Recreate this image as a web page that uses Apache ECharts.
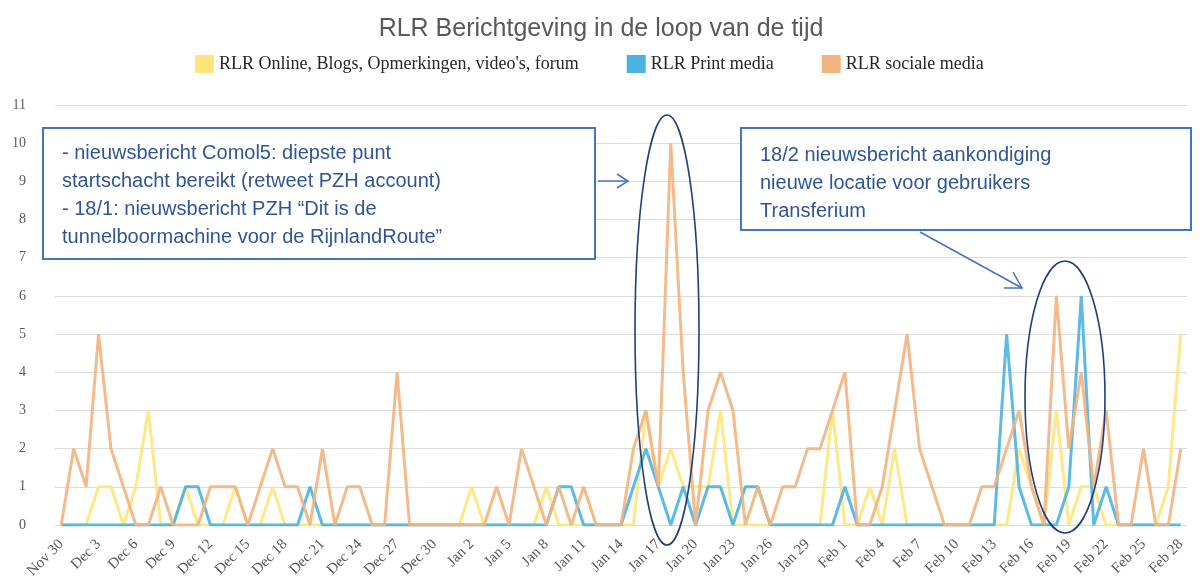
<!DOCTYPE html>
<html lang="nl">
<head>
    <meta charset="UTF-8">
    <title>RLR Berichtgeving</title>
    <script src="https://cdn.jsdelivr.net/npm/echarts@6/dist/echarts.min.js"></script>
    <style>
        html, body {margin: 0; padding: 0; background: #fff;}
    </style>
</head>
<body>
<div id="main" style="width: 1202px;height:588px;"></div>
<script type="text/javascript">
    // dagen: Nov 30 t/m Feb 28 (rijen: Nov30+Dec1-10, Dec11-20, Dec21-31, Jan1-10, Jan11-20, Jan21-31, Feb1-10, Feb11-20, Feb21-28)
    var days = [
        'Nov 30', 'Dec 1', 'Dec 2', 'Dec 3', 'Dec 4', 'Dec 5', 'Dec 6', 'Dec 7', 'Dec 8', 'Dec 9', 'Dec 10',
        'Dec 11', 'Dec 12', 'Dec 13', 'Dec 14', 'Dec 15', 'Dec 16', 'Dec 17', 'Dec 18', 'Dec 19', 'Dec 20',
        'Dec 21', 'Dec 22', 'Dec 23', 'Dec 24', 'Dec 25', 'Dec 26', 'Dec 27', 'Dec 28', 'Dec 29', 'Dec 30', 'Dec 31',
        'Jan 1', 'Jan 2', 'Jan 3', 'Jan 4', 'Jan 5', 'Jan 6', 'Jan 7', 'Jan 8', 'Jan 9', 'Jan 10',
        'Jan 11', 'Jan 12', 'Jan 13', 'Jan 14', 'Jan 15', 'Jan 16', 'Jan 17', 'Jan 18', 'Jan 19', 'Jan 20',
        'Jan 21', 'Jan 22', 'Jan 23', 'Jan 24', 'Jan 25', 'Jan 26', 'Jan 27', 'Jan 28', 'Jan 29', 'Jan 30', 'Jan 31',
        'Feb 1', 'Feb 2', 'Feb 3', 'Feb 4', 'Feb 5', 'Feb 6', 'Feb 7', 'Feb 8', 'Feb 9', 'Feb 10',
        'Feb 11', 'Feb 12', 'Feb 13', 'Feb 14', 'Feb 15', 'Feb 16', 'Feb 17', 'Feb 18', 'Feb 19', 'Feb 20',
        'Feb 21', 'Feb 22', 'Feb 23', 'Feb 24', 'Feb 25', 'Feb 26', 'Feb 27', 'Feb 28'
    ];

    // RLR Online, Blogs, Opmerkingen, video's, forum
    var online = [
        0, 0, 0, 1, 1, 0, 1, 3, 0, 0, 1,
        0, 0, 0, 1, 0, 0, 1, 0, 0, 0,
        0, 0, 0, 0, 0, 0, 0, 0, 0, 0, 0,
        0, 1, 0, 0, 0, 0, 0, 1, 0, 0,
        0, 0, 0, 0, 0, 3, 1, 2, 1, 1,
        1, 3, 0, 0, 0, 0, 0, 0, 0, 0, 3,
        0, 0, 1, 0, 2, 0, 0, 0, 0, 0,
        0, 0, 0, 0, 2, 1, 0, 3, 0, 1,
        1, 0, 0, 0, 0, 0, 1, 5
    ];
    // RLR Print media
    var print = [
        0, 0, 0, 0, 0, 0, 0, 0, 0, 0, 1,
        1, 0, 0, 0, 0, 0, 0, 0, 0, 1,
        0, 0, 0, 0, 0, 0, 0, 0, 0, 0, 0,
        0, 0, 0, 0, 0, 0, 0, 0, 1, 1,
        0, 0, 0, 0, 1, 2, 1, 0, 1, 0,
        1, 1, 0, 1, 1, 0, 0, 0, 0, 0, 0,
        1, 0, 0, 0, 0, 0, 0, 0, 0, 0,
        0, 0, 0, 5, 1, 0, 0, 0, 1, 6,
        0, 1, 0, 0, 0, 0, 0, 0
    ];
    // RLR sociale media
    var sociaal = [
        0, 2, 1, 5, 2, 1, 0, 0, 1, 0, 0,
        0, 1, 1, 1, 0, 1, 2, 1, 1, 0,
        2, 0, 1, 1, 0, 0, 4, 0, 0, 0, 0,
        0, 0, 0, 1, 0, 2, 1, 0, 1, 0,
        1, 0, 0, 0, 2, 3, 1, 10, 4, 0,
        3, 4, 3, 0, 1, 0, 1, 1, 2, 2, 3,
        4, 0, 0, 1, 3, 5, 2, 1, 0, 0,
        0, 1, 1, 2, 3, 1, 0, 6, 2, 4,
        1, 3, 0, 0, 2, 0, 0, 2
    ];

    var seriesNames = ['RLR Online, Blogs, Opmerkingen, video\'s, forum', 'RLR Print media', 'RLR sociale media'];
    var colors = ['#FFE57A', '#4AB3E0', '#F2B47F'];

    var note1 = [
        '- nieuwsbericht Comol5: diepste punt',
        'startschacht bereikt (retweet PZH account)',
        '- 18/1: nieuwsbericht PZH \u201cDit is de',
        'tunnelboormachine voor de RijnlandRoute\u201d'
    ];
    var note2 = [
        '18/2 nieuwsbericht aankondiging',
        'nieuwe locatie voor gebruikers',
        'Transferium'
    ];

    var myChart = echarts.init(document.getElementById('main'));
    var serif = '"Liberation Serif", "DejaVu Serif", serif';
    var sans = '"Liberation Sans", Arial, sans-serif';
    var boxBlue = '#4472C4';
    var ringBlue = '#203F7A';

    function lineSeries(name, data, color) {
        return {
            name: name,
            type: 'line',
            data: data,
            showSymbol: false,
            symbol: 'none',
            lineStyle: {width: 3, color: color, opacity: 0.9},
            itemStyle: {color: color},
            animation: false
        };
    }

    var option = {
        backgroundColor: '#fff',
        color: colors,
        title: {
            text: 'RLR Berichtgeving in de loop van de tijd',
            left: 'center',
            top: 12,
            textStyle: {fontFamily: sans, fontSize: 25, fontWeight: 'normal', color: '#595959'}
        },
        legend: {
            data: seriesNames,
            left: 190,
            top: 50,
            icon: 'rect',
            itemWidth: 19,
            itemHeight: 18,
            itemGap: 48,
            textStyle: {fontFamily: serif, fontSize: 18, color: '#262626'}
        },
        grid: {left: 55, right: 15, top: 105, bottom: 63},
        xAxis: {
            type: 'category',
            data: days,
            boundaryGap: true,
            axisLine: {show: false},
            axisTick: {show: false},
            axisLabel: {
                interval: 2,
                rotate: 45,
                margin: 17,
                fontFamily: serif,
                fontSize: 15,
                color: '#595959'
            }
        },
        yAxis: {
            type: 'value',
            min: 0,
            max: 11,
            interval: 1,
            axisLine: {show: false},
            axisTick: {show: false},
            axisLabel: {margin: 29, fontFamily: serif, fontSize: 14, color: '#595959'},
            splitLine: {lineStyle: {color: '#dcdcdc', width: 1}}
        },
        series: [
            lineSeries(seriesNames[0], online, colors[0]),
            lineSeries(seriesNames[1], print, colors[1]),
            lineSeries(seriesNames[2], sociaal, colors[2])
        ],
        graphic: [
            // kader 1
            {
                type: 'rect', z: 100,
                shape: {x: 43, y: 128, width: 552, height: 131},
                style: {fill: '#fff', stroke: boxBlue, lineWidth: 2}
            },
            {
                type: 'text', z: 101, x: 62, y: 139,
                style: {text: note1.join('\n'), font: '20px ' + sans, fill: '#2F5597', lineHeight: 28, verticalAlign: 'top'}
            },
            // pijl 1
            {
                type: 'polyline', z: 100,
                shape: {points: [[598, 181], [628, 181]]},
                style: {stroke: boxBlue, lineWidth: 1.5, fill: null}
            },
            {
                type: 'polyline', z: 100,
                shape: {points: [[617, 174], [628, 181], [617, 188]]},
                style: {stroke: boxBlue, lineWidth: 1.5, fill: null}
            },
            // ellips 1
            {
                type: 'ellipse', z: 100,
                shape: {cx: 667, cy: 330, rx: 32, ry: 215},
                style: {fill: null, stroke: ringBlue, lineWidth: 1.6}
            },
            // kader 2
            {
                type: 'rect', z: 100,
                shape: {x: 741, y: 128, width: 450, height: 102},
                style: {fill: '#fff', stroke: boxBlue, lineWidth: 2}
            },
            {
                type: 'text', z: 101, x: 760, y: 141,
                style: {text: note2.join('\n'), font: '20px ' + sans, fill: '#2F5597', lineHeight: 28, verticalAlign: 'top'}
            },
            // pijl 2
            {
                type: 'polyline', z: 100,
                shape: {points: [[920, 232], [1022, 288]]},
                style: {stroke: boxBlue, lineWidth: 1.5, fill: null}
            },
            {
                type: 'polyline', z: 100,
                shape: {points: [[1013, 272], [1022, 288], [1004, 288]]},
                style: {stroke: boxBlue, lineWidth: 1.5, fill: null}
            },
            // ellips 2
            {
                type: 'ellipse', z: 100,
                shape: {cx: 1065, cy: 397, rx: 40, ry: 136},
                style: {fill: null, stroke: ringBlue, lineWidth: 1.6}
            }
        ]
    };
    myChart.setOption(option);
</script>
</body>
</html>
